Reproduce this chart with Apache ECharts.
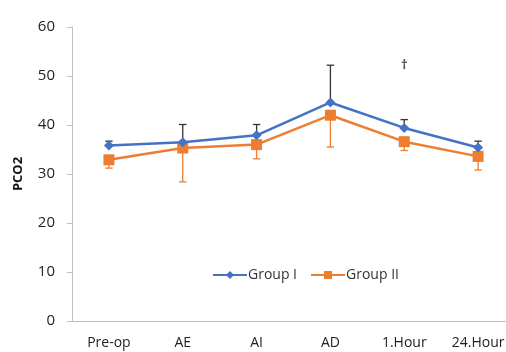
<!DOCTYPE html>
<html><head><meta charset="utf-8">
<script src="https://cdn.jsdelivr.net/npm/echarts@6/dist/echarts.min.js"></script>
<style>html,body{margin:0;padding:0;background:#fff}#c{width:506px;height:352px}</style>
</head><body><div id="c"></div>
<script>
const categories = ['Pre-op', 'AE', 'AI', 'AD', '1.Hour', '24.Hour'];
const group1 = [35.8, 36.5, 37.9, 44.6, 39.4, 35.4];
const group1Upper = [36.7, 40.1, 40.1, 52.2, 41.1, 36.7];
const group2 = [32.9, 35.3, 36.0, 42.0, 36.6, 33.6];
const group2Lower = [31.2, 28.4, 33.1, 35.5, 34.8, 30.8];
const yTicks = [0, 10, 20, 30, 40, 50, 60];
const daggerCategory = '1.Hour';
const daggerValue = 52.2;

const FONT = 'Open Sans';
function errItems(vals, ends) { return vals.map((v, i) => [i, v, ends[i]]); }
function errRender(color) {
  return function (params, api) {
    const x = api.value(0);
    const a = api.coord([x, api.value(1)]);
    const b = api.coord([x, api.value(2)]);
    const hw = 3.7;
    return {
      type: 'group',
      children: [
        { type: 'line', shape: { x1: a[0], y1: a[1], x2: b[0], y2: b[1] }, style: { stroke: color, lineWidth: 1.3 } },
        { type: 'line', shape: { x1: b[0] - hw, y1: b[1], x2: b[0] + hw, y2: b[1] }, style: { stroke: color, lineWidth: 1.3 } }
      ]
    };
  };
}
const chart = echarts.init(document.getElementById('c'));
chart.setOption({
  animation: false,
  grid: { left: 72, width: 443, top: 27, bottom: 31, containLabel: false, outerBoundsMode: 'none' },
  legend: {
    data: ['Group I', 'Group II'],
    left: 207, top: 263,
    itemWidth: 34, itemHeight: 10, itemGap: 13,
    textStyle: { fontFamily: FONT, fontSize: 14, color: '#333', padding: [0, 0, 0, -4] }
  },
  xAxis: {
    type: 'category', data: categories, boundaryGap: true,
    axisLine: { lineStyle: { color: '#bfbfbf', width: 1 } },
    axisTick: { show: false },
    axisLabel: { fontFamily: FONT, fontSize: 14, color: '#222', margin: 15, interval: 0 }
  },
  yAxis: {
    type: 'value', min: yTicks[0], max: yTicks[yTicks.length - 1], interval: 10,
    name: 'PCO2', nameLocation: 'middle', nameGap: 47, nameRotate: 90,
    nameTextStyle: { fontFamily: FONT, fontSize: 13, fontWeight: 'bold', color: '#111' },
    axisLine: { show: true, lineStyle: { color: '#bfbfbf' } },
    axisTick: { show: true, length: 5, lineStyle: { color: '#bfbfbf' } },
    axisLabel: { fontFamily: FONT, fontSize: 15, color: '#222', margin: 17 },
    splitLine: { show: false }
  },
  series: [
    { type: 'custom', name: 'err1', renderItem: errRender('#333333'), data: errItems(group1, group1Upper), z: 1, silent: true },
    { type: 'custom', name: 'err2', renderItem: errRender('#ED7D31'), data: errItems(group2, group2Lower), z: 1, silent: true },
    { name: 'Group I', type: 'line', data: group1, symbol: 'diamond', symbolSize: 10,
      lineStyle: { color: '#4472C4', width: 2.5 }, itemStyle: { color: '#4472C4' }, z: 3 },
    { name: 'Group II', type: 'line', data: group2, symbol: 'rect', symbolSize: 11,
      lineStyle: { color: '#ED7D31', width: 2.5 }, itemStyle: { color: '#ED7D31' }, z: 2 },
    { type: 'scatter', name: 'dagger', data: [[daggerCategory, daggerValue]], symbolSize: 0, silent: true,
      label: { show: true, position: 'inside', formatter: '†', fontFamily: FONT, fontSize: 13, fontWeight: 'bold', color: '#222' } }
  ]
});
</script></body></html>
